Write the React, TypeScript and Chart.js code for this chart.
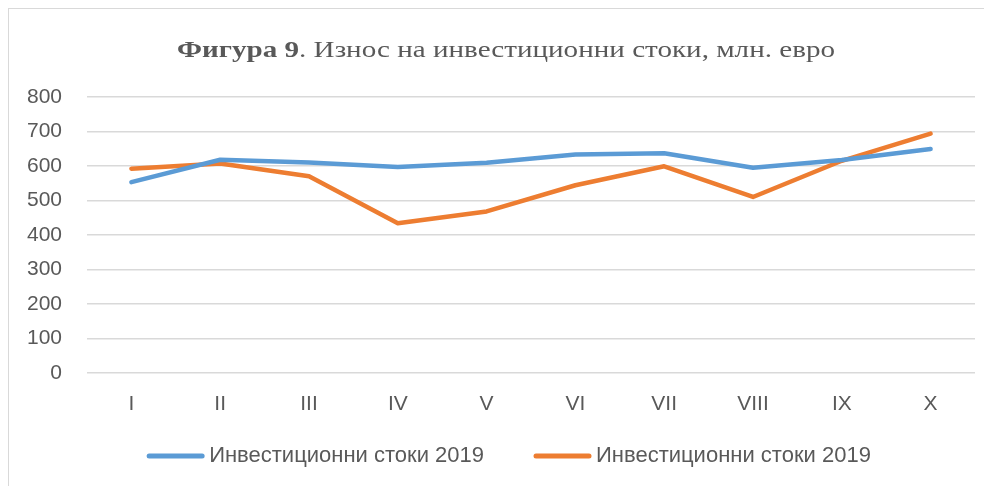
import React, { useEffect, useRef } from "react";
import { Chart, registerables } from "chart.js";

Chart.register(...registerables);

const categories = ["I", "II", "III", "IV", "V", "VI", "VII", "VIII", "IX", "X"];
const seriesBlue = [553, 618, 610, 597, 609, 633, 637, 595, 617, 649];
const seriesOrange = [592, 607, 570, 434, 468, 544, 599, 510, 615, 694];
const seriesLabels = ["Инвестиционни стоки 2019", "Инвестиционни стоки 2019"];
const titleBold = "Фигура 9";
const titleRest = ". Износ на инвестиционни стоки, млн. евро";
const yTicks = [0, 100, 200, 300, 400, 500, 600, 700, 800];

const BLUE = "#5b9bd5";
const ORANGE = "#ed7d31";
const SANS = "'Liberation Sans', Arial, sans-serif";
const SERIF = "'Liberation Serif', 'Times New Roman', serif";

const titlePlugin = {
  id: "richTitle",
  afterDraw(chart: any) {
    const ctx = chart.ctx as CanvasRenderingContext2D;
    ctx.save();
    ctx.fillStyle = "#595959";
    ctx.textBaseline = "alphabetic";
    const bold = "bold 23px " + SERIF;
    const normal = "23px " + SERIF;
    ctx.font = bold;
    const wb = ctx.measureText(titleBold).width;
    ctx.font = normal;
    const wn = ctx.measureText(titleRest).width;
    const targetW = 658;
    const sx = targetW / (wb + wn);
    const cx = 497;
    const y = 47.5;
    ctx.translate(cx - targetW / 2, y);
    ctx.scale(sx, 1);
    ctx.textAlign = "left";
    ctx.font = bold;
    ctx.fillText(titleBold, 0, 0);
    ctx.font = normal;
    ctx.fillText(titleRest, wb, 0);
    ctx.restore();
  },
};

const legendPlugin = {
  id: "lineLegend",
  afterDraw(chart: any) {
    const ctx = chart.ctx as CanvasRenderingContext2D;
    const ds = chart.data.datasets;
    ctx.save();
    ctx.font = "22px " + SANS;
    const lineLen = 57;
    const gapText = 5;
    const gapItems = 50;
    const widths = ds.map((d: any) => lineLen + gapText + ctx.measureText(d.label).width);
    const total = widths.reduce((a: number, b: number) => a + b, 0) + gapItems * (ds.length - 1);
    let x = 500 - total / 2;
    const y = 447;
    ds.forEach((d: any, i: number) => {
      ctx.strokeStyle = d.borderColor;
      ctx.lineWidth = 5;
      ctx.lineCap = "round";
      ctx.beginPath();
      ctx.moveTo(x + 2, y);
      ctx.lineTo(x + lineLen - 2, y);
      ctx.stroke();
      ctx.fillStyle = "#595959";
      ctx.textBaseline = "middle";
      ctx.textAlign = "left";
      ctx.fillText(d.label, x + lineLen + gapText, y);
      x += widths[i] + gapItems;
    });
    ctx.restore();
  },
};

export default function App() {
  const ref = useRef<HTMLCanvasElement | null>(null);
  useEffect(() => {
    if (!ref.current) return;
    const chart = new Chart(ref.current, {
      type: "line",
      data: {
        labels: categories,
        datasets: [
          {
            label: seriesLabels[0],
            data: seriesBlue,
            borderColor: BLUE,
            backgroundColor: BLUE,
            borderWidth: 4.5,
            pointRadius: 0,
            borderCapStyle: "round",
            borderJoinStyle: "round",
            tension: 0,
          },
          {
            label: seriesLabels[1],
            data: seriesOrange,
            borderColor: ORANGE,
            backgroundColor: ORANGE,
            borderWidth: 4.5,
            pointRadius: 0,
            borderCapStyle: "round",
            borderJoinStyle: "round",
            tension: 0,
          },
        ],
      },
      options: {
        animation: false,
        responsive: false,
        maintainAspectRatio: false,
        layout: { padding: { left: 0, right: 17, top: 88, bottom: 50 } },
        plugins: {
          legend: { display: false },
          title: { display: false },
          tooltip: { enabled: false },
        },
        scales: {
          x: {
            offset: true,
            grid: { display: false, drawTicks: false },
            border: { display: false },
            ticks: { color: "#595959", font: { family: SANS, size: 21 }, padding: 19 },
          },
          y: {
            min: 0,
            max: 800,
            afterFit: (s: any) => {
              s.width = 78;
            },
            afterBuildTicks: (s: any) => {
              s.ticks = yTicks.map((v) => ({ value: v }));
            },
            grid: { color: "#d9d9d9", lineWidth: 1.5, drawTicks: false },
            border: { display: false },
            ticks: { color: "#595959", font: { family: SANS, size: 21 }, padding: 25 },
          },
        },
      },
      plugins: [titlePlugin, legendPlugin],
    });
    return () => chart.destroy();
  }, []);
  return (
    <div
      style={{
        width: 984,
        height: 478,
        borderTop: "1px solid #d9d9d9",
        borderLeft: "1px solid #d9d9d9",
        boxSizing: "border-box",
        background: "#fff",
        overflow: "hidden",
      }}
    >
      <canvas ref={ref} width={983} height={477} style={{ display: "block" }} />
    </div>
  );
}
